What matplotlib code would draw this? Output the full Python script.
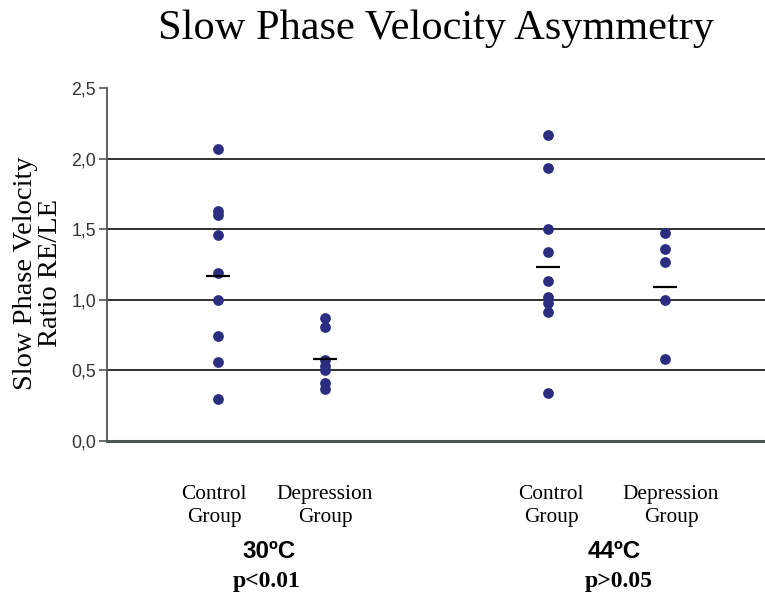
import numpy as np
import matplotlib.pyplot as plt

# values
groups = ["Control\nGroup", "Depression\nGroup", "Control\nGroup", "Depression\nGroup"]
control_30 = [2.07, 1.63, 1.60, 1.46, 1.19, 1.00, 0.74, 0.56, 0.30]
depression_30 = [0.87, 0.81, 0.57, 0.53, 0.50, 0.41, 0.37]
control_44 = [2.17, 1.93, 1.50, 1.34, 1.13, 1.02, 0.98, 0.91, 0.34]
depression_44 = [1.47, 1.36, 1.27, 1.00, 0.58]
group_means = [1.17, 0.58, 1.23, 1.09]
temps = ["30ºC", "44ºC"]
pvalues = ["p<0.01", "p>0.05"]
yticks = [0.0, 0.5, 1.0, 1.5, 2.0, 2.5]

serif = "Liberation Serif"
sans = "Liberation Sans"


def main():
    fig = plt.figure(figsize=(7.65, 5.92), dpi=100)
    ax = fig.add_axes([0.1399, 0.2551, 0.8601, 0.5963])

    xpos = [1.037, 2.037, 4.118, 5.218]
    series = [control_30, depression_30, control_44, depression_44]
    for x, vals in zip(xpos, series):
        ax.scatter([x] * len(vals), vals, s=60, color="#2b2e80", zorder=3,
                   linewidths=0)
    for x, m in zip(xpos, group_means):
        ax.hlines(m, x - 0.112, x + 0.112, color="black", lw=1.6, zorder=4)

    ax.set_xlim(0, 6.15)
    ax.set_ylim(0, 2.5)
    ax.set_yticks(yticks)
    ax.set_yticklabels([f"{t:.1f}".replace(".", ",") for t in yticks],
                       fontname=sans, fontsize=12.8, color="#333333")
    ax.set_xticks([])
    for t in yticks[1:-1]:
        ax.axhline(t, color="#202020", lw=1.3, zorder=1)
    for s in ["top", "right"]:
        ax.spines[s].set_visible(False)
    ax.spines["left"].set_color("#505555")
    ax.spines["left"].set_linewidth(1.3)
    ax.spines["bottom"].set_color("#505555")
    ax.spines["bottom"].set_linewidth(2.2)
    ax.tick_params(axis="y", length=6, width=1.2, color="#505555", pad=2)

    fig.text(38.5 / 765, 1 - 273 / 592, "Slow Phase Velocity\nRatio RE/LE",
             fontname=serif, fontsize=20.5, rotation=90, ha="center",
             va="center", linespacing=1.0, multialignment="center")

    fig.text(436.5 / 765, 1 - 39 / 592, "Slow Phase Velocity Asymmetry",
             fontname=serif, fontsize=30.5, ha="center", va="baseline")

    # group labels under the axis
    label_x = [214, 325, 551, 671]
    for lx, g in zip(label_x, groups):
        fig.text(lx / 765, 1 - 506 / 592, g, fontname=serif, fontsize=15.4,
                 ha="center", va="center", linespacing=1.25)
    temp_x = [269, 614]
    p_x = [267, 619]
    for tx, px, t, p in zip(temp_x, p_x, temps, pvalues):
        fig.text(tx / 765, 1 - 551 / 592, t, fontname=sans, fontsize=17.5,
                 fontweight="bold", ha="center", va="center")
        fig.text(px / 765, 1 - 581 / 592, p, fontname=serif, fontsize=17,
                 fontweight="bold", ha="center", va="center")

    fig.savefig("out.png", dpi=100)


if __name__ == "__main__":
    main()
